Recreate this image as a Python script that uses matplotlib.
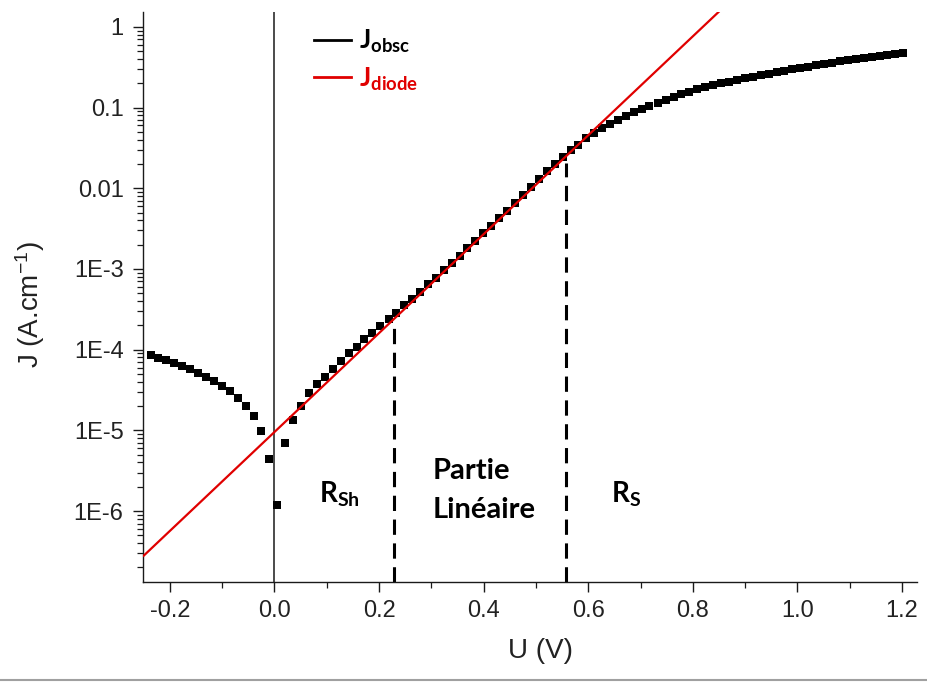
import matplotlib
matplotlib.use("Agg")
import matplotlib.pyplot as plt
from matplotlib.lines import Line2D
from matplotlib.ticker import MultipleLocator, FixedLocator, FixedFormatter, LogLocator, NullFormatter

plt.rcParams['font.family'] = ['Liberation Sans', 'DejaVu Sans']
plt.rcParams['mathtext.fontset'] = 'custom'
plt.rcParams['mathtext.rm'] = 'Liberation Sans'
plt.rcParams['mathtext.sf'] = 'Liberation Sans'
plt.rcParams['mathtext.it'] = 'Liberation Sans:italic'
plt.rcParams['mathtext.bf'] = 'Lato:bold'

# ---- data ----
U_obsc = [-0.237, -0.222, -0.207, -0.192, -0.176, -0.161, -0.146, -0.131, -0.116, -0.101,
          -0.085, -0.070, -0.055, -0.040, -0.025, -0.010, 0.005, 0.021, 0.036, 0.051,
          0.066, 0.081, 0.096, 0.111, 0.127, 0.142, 0.157, 0.172, 0.187, 0.202,
          0.218, 0.233, 0.248, 0.263, 0.278, 0.293, 0.308, 0.324, 0.339, 0.354,
          0.369, 0.384, 0.399, 0.414, 0.430, 0.445, 0.460, 0.475, 0.490, 0.505,
          0.521, 0.536, 0.551, 0.566, 0.581, 0.596, 0.611, 0.627, 0.642, 0.657,
          0.672, 0.687, 0.702, 0.717, 0.733, 0.748, 0.763, 0.778, 0.793, 0.808,
          0.824, 0.839, 0.854, 0.869, 0.884, 0.899, 0.914, 0.930, 0.945, 0.960,
          0.975, 0.990, 1.005, 1.020, 1.036, 1.051, 1.066, 1.081, 1.096, 1.111,
          1.127, 1.142, 1.157, 1.172, 1.187, 1.202]
J_obsc = [8.6e-5, 7.96e-5, 7.45e-5, 6.9e-5, 6.28e-5, 5.7e-5, 5.19e-5, 4.63e-5, 4.12e-5, 3.57e-5,
          3.07e-5, 2.52e-5, 2.02e-5, 1.51e-5, 9.8e-6, 4.45e-6, 1.19e-6, 7.03e-6, 1.34e-5, 2.0e-5,
          2.88e-5, 3.72e-5, 4.63e-5, 5.77e-5, 7.24e-5, 9.0e-5, 1.09e-4, 1.35e-4, 1.62e-4, 1.98e-4,
          2.38e-4, 2.87e-4, 3.55e-4, 4.28e-4, 5.24e-4, 6.46e-4, 7.8e-4, 9.72e-4, 1.20e-3, 1.46e-3,
          1.81e-3, 2.24e-3, 2.77e-3, 3.41e-3, 4.25e-3, 5.28e-3, 6.58e-3, 8.27e-3, 1.04e-2, 1.31e-2,
          1.63e-2, 2.0e-2, 2.43e-2, 2.99e-2, 0.0345, 0.0417, 0.0489, 0.0555, 0.0622, 0.0703,
          0.0788, 0.0876, 0.0963, 0.105, 0.115, 0.124, 0.137, 0.149, 0.158, 0.169,
          0.179, 0.191, 0.200, 0.210, 0.220, 0.231, 0.242, 0.252, 0.264, 0.274,
          0.287, 0.299, 0.310, 0.322, 0.335, 0.348, 0.361, 0.376, 0.390, 0.405,
          0.416, 0.428, 0.441, 0.454, 0.467, 0.476]

U_diode = [-0.25, 0.85]
J_diode = [2.8e-7, 1.55]

region_U = [0.228, 0.558]
region_Jtop = [2.02e-4, 0.0206]

ytick_vals = [1e-6, 1e-5, 1e-4, 1e-3, 1e-2, 1e-1, 1]
ytick_labels = ['1E-6', '1E-5', '1E-4', '1E-3', '0.01', '0.1', '1']

RED = '#e00000'
INK = '#1a1a1a'

fig = plt.figure(figsize=(9.28, 6.82), dpi=100)
ax = fig.add_axes([143/928, 1-582/682, (917-143)/928, (582-12)/682])

ax.set_yscale('log')
ax.set_xlim(-0.2514, 1.2285)
ax.set_ylim(1.32e-7, 1.53)

ax.axvline(0.0, color=INK, lw=1.1, zorder=1)
ax.vlines(region_U, 1.32e-7, region_Jtop, colors='black', linestyles=(0, (5.0, 2.8)), lw=2.2, zorder=2)
ax.plot(U_obsc, J_obsc, 's', color='black', ms=5.6, mew=0, zorder=3, label=r'$\mathbf{J_{obsc}}$')
ax.plot(U_diode, J_diode, '-', color=RED, lw=1.6, zorder=4, label=r'$\mathbf{J_{diode}}$')

for s in ['top', 'right']:
    ax.spines[s].set_visible(False)
for s in ['left', 'bottom']:
    ax.spines[s].set_linewidth(1.0)
    ax.spines[s].set_color(INK)

ax.xaxis.set_major_locator(MultipleLocator(0.2))
ax.xaxis.set_minor_locator(MultipleLocator(0.1))
ax.xaxis.set_major_formatter(matplotlib.ticker.FuncFormatter(lambda v, p: f'{v:.1f}' if abs(v) > 1e-9 else '0.0'))
ax.yaxis.set_major_locator(FixedLocator(ytick_vals))
ax.yaxis.set_major_formatter(FixedFormatter(ytick_labels))
ax.yaxis.set_minor_locator(LogLocator(base=10, subs=[2, 3, 4, 5, 6, 7, 8, 9], numticks=20))
ax.yaxis.set_minor_formatter(NullFormatter())

ax.tick_params(which='major', direction='out', length=7, width=1.0, color=INK,
               labelsize=17, labelcolor='#222222')
ax.tick_params(which='minor', direction='out', length=4, width=0.9, color=INK)
ax.tick_params(axis='y', which='major', pad=7)
ax.tick_params(axis='x', which='major', pad=6)

ax.set_xlabel('U (V)', fontsize=20, color='#222222')
ax.set_ylabel(r'J (A.cm$^{-1}$)', fontsize=20, color='#222222')
ax.xaxis.set_label_coords(0.513, -0.098)
ax.yaxis.set_label_coords(-0.124, 0.486)

tfs = 20
ax.text(0.086, 1.26e-6, r'$\mathbf{R_{Sh}}$', fontsize=tfs, ha='left', va='baseline', color='black')
ax.text(0.644, 1.26e-6, r'$\mathbf{R_{S}}$', fontsize=tfs, ha='left', va='baseline', color='black')
ax.text(0.302, 2.49e-6, 'Partie', fontsize=21, family='Lato', fontweight='bold',
        ha='left', va='baseline', color='black')
ax.text(0.302, 8.2e-7, 'Linéaire', fontsize=21, family='Lato', fontweight='bold',
        ha='left', va='baseline', color='black')

leg = ax.legend(loc='upper left', bbox_to_anchor=(0.207, 0.99), frameon=False, fontsize=19,
                handlelength=1.4, handletextpad=0.33, labelspacing=0.38, borderaxespad=0.0)
for t, c in zip(leg.get_texts(), ['black', RED]):
    t.set_color(c)
for h in leg.legend_handles:
    h.set_marker('')
    h.set_linestyle('-')
    h.set_linewidth(2.0)
leg.legend_handles[0].set_color('black')

fig.add_artist(Line2D([0, 1], [1-680/682, 1-680/682], transform=fig.transFigure, color='#a0a0a0', lw=1.5))

fig.savefig('out.png', dpi=100)
